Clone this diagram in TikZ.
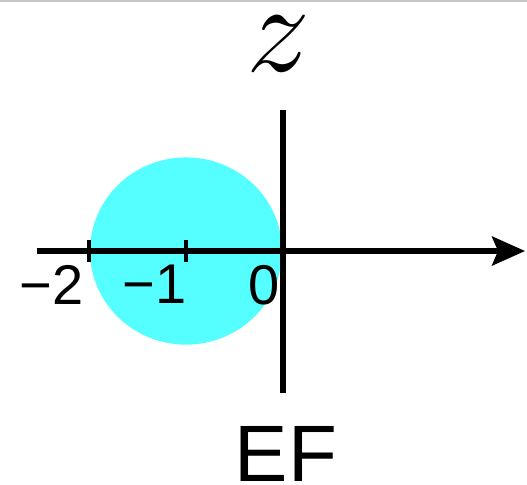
\RequirePackage{fix-cm}
\documentclass[tikz,border=0pt]{standalone}
\usepackage{fontspec}
\newfontfamily\axisfont{Liberation Sans}
\usetikzlibrary{arrows.meta}
\definecolor{diskcyan}{RGB}{85,255,255}
\begin{document}
\begin{tikzpicture}[>={Stealth[length=16.5pt,width=14.5pt,inset=3pt]}, x=48.5pt, y=48.5pt,
    ticklabel/.style={anchor=north east, inner sep=0pt, font=\axisfont\fontsize{28}{28}\selectfont}]
\useasboundingbox (-2.918,-2.412) rectangle (2.515,2.588);
\draw[gray!45, line width=1.2pt](-2.918,2.578)--(2.515,2.578);
\fill[diskcyan](-1,0)ellipse (0.99 and 0.965);
\draw[->, line width=2.6pt](-2.54,0)--(2.495,0);
\draw[line width=2.8pt](0,-1.46)--(0,1.45);
\foreach \x in {-2,-1}
{
    \draw[line width=2pt](\x,-0.115)--(\x,0.115);
}
\node[ticklabel] (lm2) at (-2.05,-0.14) {−2};
\node[ticklabel] (lm1) at (-0.99,-0.14) {−1};
\node[ticklabel] (l0) at (-0.03,-0.14) {0};
\node[inner sep=0pt, font=\fontsize{64}{64}\selectfont] (zlab) at (-0.05,2.14) {$z$};
\node[anchor=base, inner sep=0pt, font=\axisfont\fontsize{40}{40}\selectfont] (eflab) at (0.03,-2.381) {EF};
\end{tikzpicture}
\end{document}
